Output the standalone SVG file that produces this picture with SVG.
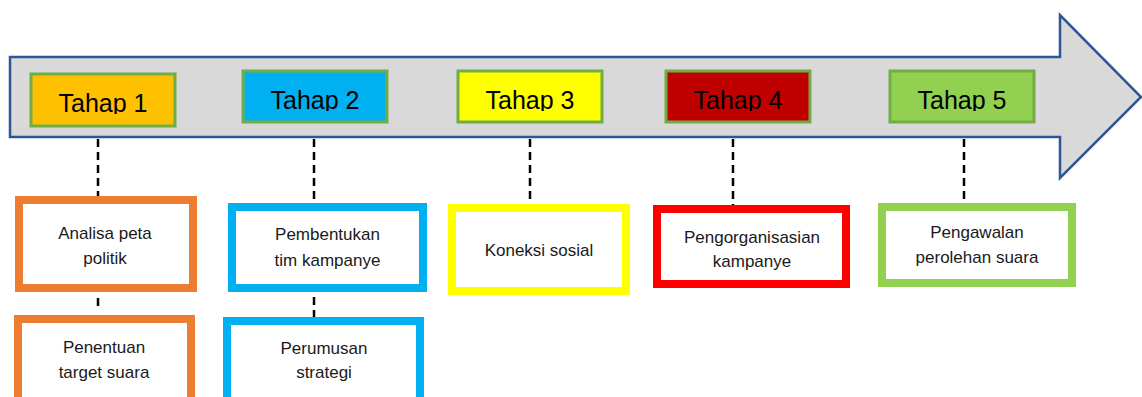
<svg xmlns="http://www.w3.org/2000/svg" width="1142" height="397" viewBox="0 0 1142 397">
<style>
.tahap{stroke:#70AD47;stroke-width:3}
.tt{font-family:"Liberation Sans",Arial,sans-serif;font-size:25px;fill:#000;text-anchor:middle}
.bx{fill:#fff;stroke-width:8}
.lb{font-family:"Liberation Sans",Arial,sans-serif;font-size:17px;fill:#1a1a1a;text-anchor:middle}
.dash{stroke:#000;stroke-width:2.5;stroke-dasharray:8 5;fill:none}
</style>
<defs>
<clipPath id="c1"><rect x="0" y="70" width="1142" height="44"/></clipPath>
<clipPath id="c2"><rect x="0" y="70" width="1142" height="41"/></clipPath>
<clipPath id="c4"><rect x="600" y="200" width="300" height="70"/></clipPath>
</defs>
<rect width="1142" height="397" fill="#fff"/>
<g id="arrow">
<path d="M10,57 H1060 V15 L1141,97 L1060,178 V137 H10 Z" fill="#D9D9D9" stroke="#2F5597" stroke-width="2.5" stroke-linejoin="miter"/>
</g>
<g id="connectors">
<line class="dash" x1="98" y1="139" x2="98" y2="197"/>
<line class="dash" x1="314" y1="139" x2="314" y2="204"/>
<line class="dash" x1="530" y1="139" x2="530" y2="204"/>
<line class="dash" x1="733" y1="139" x2="733" y2="205"/>
<line class="dash" x1="964" y1="139" x2="964" y2="203"/>
<line class="dash" x1="98" y1="298" x2="98" y2="311"/>
<line class="dash" x1="314" y1="297" x2="314" y2="317"/>
</g>
<g id="tahap1"><rect class="tahap" x="31" y="74" width="144" height="52" fill="#FFC000"/><text class="tt" x="103" y="112" clip-path="url(#c1)">Tahap 1</text></g>
<g id="tahap2"><rect class="tahap" x="243" y="71" width="144" height="51" fill="#00B0F0"/><text class="tt" x="315" y="109" clip-path="url(#c2)">Tahap 2</text></g>
<g id="tahap3"><rect class="tahap" x="458" y="71" width="144" height="51" fill="#FFFF00"/><text class="tt" x="530" y="109" clip-path="url(#c2)">Tahap 3</text></g>
<g id="tahap4"><rect class="tahap" x="666" y="71" width="144" height="51" fill="#C00000"/><text class="tt" x="738" y="109" clip-path="url(#c2)">Tahap 4</text></g>
<g id="tahap5"><rect class="tahap" x="890" y="71" width="144" height="51" fill="#92D050"/><text class="tt" x="962" y="109" clip-path="url(#c2)">Tahap 5</text></g>
<g id="analisa"><rect class="bx" x="19" y="200" width="174" height="88" stroke="#ED7D31"/><text class="lb" x="105" y="239">Analisa peta</text><text class="lb" x="105" y="264">politik</text></g>
<g id="penentuan"><rect class="bx" x="18" y="319" width="173" height="92" stroke="#ED7D31"/><text class="lb" x="104" y="353">Penentuan</text><text class="lb" x="104" y="378">target suara</text></g>
<g id="pembentukan"><rect class="bx" x="232" y="207" width="191" height="81" stroke="#00B0F0"/><text class="lb" x="327.5" y="240">Pembentukan</text><text class="lb" x="327.5" y="266">tim kampanye</text></g>
<g id="perumusan"><rect class="bx" x="227" y="321" width="193" height="92" stroke="#00B0F0"/><text class="lb" x="324" y="354">Perumusan</text><text class="lb" x="324" y="378">strategi</text></g>
<g id="koneksi"><rect class="bx" x="452" y="208" width="174" height="83" stroke="#FFFF00"/><text class="lb" x="539" y="256">Koneksi sosial</text></g>
<g id="pengorganisasian"><rect class="bx" x="657" y="209" width="189" height="75" stroke="#FF0000"/><text class="lb" x="752" y="243">Pengorganisasian</text><text class="lb" x="752" y="267" clip-path="url(#c4)">kampanye</text></g>
<g id="pengawalan"><rect class="bx" x="882" y="207" width="190" height="76" stroke="#92D050"/><text class="lb" x="977" y="238">Pengawalan</text><text class="lb" x="977" y="263">perolehan suara</text></g>
</svg>
